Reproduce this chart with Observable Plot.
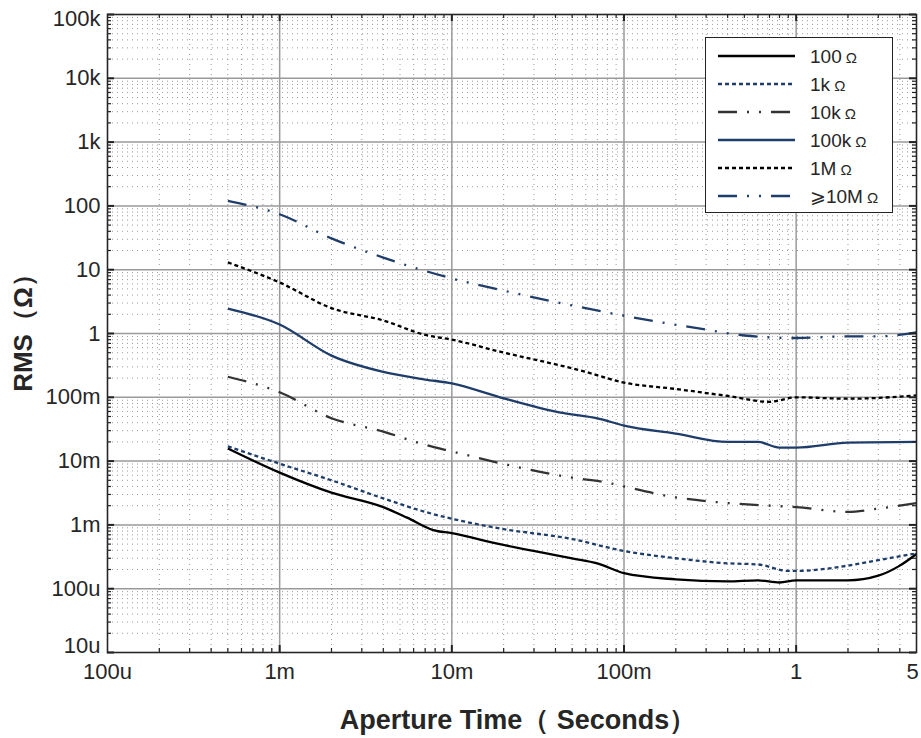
<!DOCTYPE html>
<html>
<head>
<meta charset="utf-8">
<script src="https://cdn.jsdelivr.net/npm/d3@7"></script>
<script src="https://cdn.jsdelivr.net/npm/@observablehq/plot@0.6"></script>
<style>
  body { margin: 0; background: #fff; }
  #wrap { position: relative; width: 921px; height: 738px; font-family: "Liberation Sans", Arial, sans-serif; }
  #wrap svg { font-family: "Liberation Sans", Arial, sans-serif; overflow: visible; }
  #legend { position: absolute; left: 705px; top: 37px; width: 186px; height: 174px; border: 1.5px solid #222; background: #fff; }
  .tick-lbl text { font-size: 22px; fill: #262626; }
  .axis-title text { font-size: 26px; font-weight: bold; fill: #262626; }
  .axis-title-x text { font-size: 27px; font-weight: bold; fill: #262626; }
</style>
</head>
<body>
<div id="wrap"><div id="legend"></div></div>
<script>
// ---- data ----
const seriesNames = ["100 Ω", "1k Ω", "10k Ω", "100k Ω", "1M Ω", "⩾10M Ω"];

const x100 = [0.0005, 0.001, 0.002, 0.004, 0.0055, 0.0078, 0.01, 0.019, 0.05, 0.07, 0.1, 0.2, 0.4, 0.6, 0.8, 1, 2, 3, 4, 5];
const y100 = [0.0158, 0.0066, 0.0032, 0.0019, 0.0013, 0.00083, 0.00074, 0.0005, 0.0003, 0.00025, 0.000175, 0.00014, 0.00013, 0.000135, 0.000125, 0.000135, 0.000135, 0.00016, 0.00023, 0.00035];

const x1k = [0.0005, 0.001, 0.002, 0.004, 0.007, 0.01, 0.019, 0.05, 0.1, 0.2, 0.4, 0.6, 0.9, 1, 2, 3, 5];
const y1k = [0.017, 0.0091, 0.005, 0.0026, 0.0016, 0.00125, 0.00088, 0.0006, 0.00039, 0.0003, 0.00025, 0.00024, 0.00019, 0.00019, 0.00023, 0.00028, 0.00036];

const x10k = [0.0005, 0.001, 0.002, 0.004, 0.007, 0.01, 0.019, 0.05, 0.08, 0.1, 0.2, 0.4, 0.7, 1, 2, 3, 5];
const y10k = [0.21, 0.12, 0.047, 0.029, 0.018, 0.0142, 0.0093, 0.0055, 0.0046, 0.004, 0.0027, 0.0022, 0.002, 0.0019, 0.0016, 0.0018, 0.0022];

const x100k = [0.0005, 0.001, 0.002, 0.004, 0.007, 0.01, 0.019, 0.042, 0.072, 0.1, 0.2, 0.4, 0.6, 0.8, 1, 2, 5];
const y100k = [2.46, 1.38, 0.45, 0.25, 0.19, 0.165, 0.1, 0.058, 0.046, 0.036, 0.027, 0.02, 0.02, 0.0163, 0.0163, 0.0195, 0.02];

const x1M = [0.0005, 0.001, 0.002, 0.004, 0.007, 0.01, 0.019, 0.057, 0.1, 0.2, 0.4, 0.7, 1, 2, 5];
const y1M = [13, 6.3, 2.5, 1.6, 0.95, 0.8, 0.52, 0.26, 0.17, 0.135, 0.105, 0.085, 0.1, 0.095, 0.107];

const x10M = [0.0005, 0.001, 0.002, 0.004, 0.01, 0.02, 0.05, 0.1, 0.3, 0.5, 1, 2, 3, 5];
const y10M = [120, 74, 31, 15.5, 7.3, 4.7, 2.75, 1.9, 1.15, 0.93, 0.85, 0.9, 0.9, 1.04];

const xTickVals = [1e-4, 1e-3, 1e-2, 1e-1, 1, 5];
const xTickLabels = ["100u", "1m", "10m", "100m", "1", "5"];
const yTickVals = [1e-5, 1e-4, 1e-3, 1e-2, 1e-1, 1, 10, 100, 1e3, 1e4, 1e5];
const yTickLabels = ["10u", "100u", "1m", "10m", "100m", "1", "10", "100", "1k", "10k", "100k"];

// ---- layout ----
const W = 921, H = 738, mL = 107, mR = 5, mT = 14, mB = 86;
const plotW = W - mL - mR, plotH = H - mT - mB;
const navy = "#1f3d6b";

// minor grid positions (2..9 of each decade)
const xMinor = [];
for (let e = -4; e <= 0; e++) for (let k = 2; k <= 9; k++) { const v = k * 10 ** e; if (v < 5) xMinor.push(v); }
const yMinor = [];
for (let e = -5; e <= 4; e++) for (let k = 2; k <= 9; k++) yMinor.push(k * 10 ** e);
const xMajorGrid = [1e-3, 1e-2, 1e-1, 1];
const yMajorGrid = yTickVals.slice(1, -1);

const pts = (xs, ys) => xs.map((x, i) => ({x, y: ys[i]}));
const styles = [
  {stroke: "#000", dash: null, w: 2.3},
  {stroke: navy, dash: "4,3", w: 2.3},
  {stroke: "#333", dash: "19,10,2,10,2,10", w: 2.3},
  {stroke: navy, dash: null, w: 2.3},
  {stroke: "#000", dash: "4,3", w: 2.3},
  {stroke: navy, dash: "19,10,2,10,2,10", w: 2.3}
];
const seriesData = [pts(x100, y100), pts(x1k, y1k), pts(x10k, y10k), pts(x100k, y100k), pts(x1M, y1M), pts(x10M, y10M)];

const xLab = new Map(xTickVals.map((v, i) => [v, xTickLabels[i]]));
const yLab = new Map(yTickVals.map((v, i) => [v, yTickLabels[i]]));
const xAxisOpts = {tickSize: 0, tickPadding: 11, tickFormat: d => xLab.get(d), className: "tick-lbl", label: null};
const yAxisOpts = {tickSize: 0, tickPadding: 7, tickFormat: d => yLab.get(d), className: "tick-lbl", label: null};

const chart = Plot.plot({
  width: W, height: H,
  marginLeft: mL, marginRight: mR, marginTop: mT, marginBottom: mB,
  x: {type: "log", domain: [1e-4, 5]},
  y: {type: "log", domain: [1e-5, 1e5]},
  marks: [
    Plot.ruleX(xMinor, {stroke: "#9a9a9a", strokeDasharray: "1,4", strokeWidth: 1}),
    Plot.ruleY(yMinor, {stroke: "#9a9a9a", strokeDasharray: "1,4", strokeWidth: 1}),
    Plot.ruleX(xMajorGrid, {stroke: "#9a9a9a", strokeWidth: 1.5}),
    Plot.ruleY(yMajorGrid, {stroke: "#9a9a9a", strokeWidth: 1.5}),
    ...seriesData.map((d, i) => Plot.line(d, {
      x: "x", y: "y", curve: "monotone-x",
      stroke: styles[i].stroke, strokeWidth: styles[i].w,
      strokeDasharray: styles[i].dash, strokeLinecap: "butt"
    })),
    // inward ticks (left/right/bottom/top)
    Plot.ruleY(yTickVals, {insetRight: plotW - 7, stroke: "#222", strokeWidth: 2}),
    Plot.ruleY(yTickVals, {insetLeft: plotW - 7, stroke: "#222", strokeWidth: 2}),
    Plot.ruleY(yMinor, {insetRight: plotW - 4, stroke: "#222", strokeWidth: 1.2}),
    Plot.ruleY(yMinor, {insetLeft: plotW - 4, stroke: "#222", strokeWidth: 1.2}),
    Plot.ruleX(xMajorGrid, {insetTop: plotH - 7, stroke: "#222", strokeWidth: 2}),
    Plot.ruleX(xMajorGrid, {insetBottom: plotH - 7, stroke: "#222", strokeWidth: 2}),
    Plot.ruleX(xMinor, {insetTop: plotH - 4, stroke: "#222", strokeWidth: 1.2}),
    Plot.ruleX(xMinor, {insetBottom: plotH - 4, stroke: "#222", strokeWidth: 1.2}),
    Plot.frame({stroke: "#262626", strokeWidth: 1.6}),
    Plot.axisX(xTickVals.slice(0, -1), xAxisOpts),
    Plot.text([xTickLabels[xTickLabels.length - 1]], {
      frameAnchor: "bottom-right", textAnchor: "middle", lineAnchor: "top",
      dx: -4, dy: 11, text: d => d, fontSize: 22, fill: "#262626"
    }),
    Plot.axisY(yTickVals.slice(1, -1), yAxisOpts),
    Plot.axisY([yTickVals[0]], {...yAxisOpts, dy: -7}),
    Plot.axisY([yTickVals[yTickVals.length - 1]], {...yAxisOpts, dy: 4}),
    Plot.text(["Aperture Time（ Seconds）"], {frameAnchor: "bottom", dx: 6, dy: 68, text: d => d, className: "axis-title-x", textAnchor: "middle", lineAnchor: "middle"}),
    Plot.text(["RMS（Ω）"], {frameAnchor: "left", rotate: -90, dx: -84, dy: -7, text: d => d, className: "axis-title", textAnchor: "middle", lineAnchor: "middle"})
  ]
});
document.getElementById("wrap").prepend(chart);

// ---- legend ----
const lg = d3.select("#legend").append("svg").attr("width", 186).attr("height", 174)
  .style("font-family", "\"Liberation Sans\", Arial, sans-serif");
seriesNames.forEach((name, i) => {
  const y = 18 + i * 28;
  lg.append("line").attr("x1", 12).attr("x2", 89).attr("y1", y).attr("y2", y)
    .attr("stroke", styles[i].stroke).attr("stroke-width", styles[i].w)
    .attr("stroke-dasharray", styles[i].dash);
  const parts = name.split(" ");
  const t = lg.append("text").attr("x", 104).attr("y", y).attr("dy", "0.35em")
    .attr("fill", "#262626").style("font-size", "19px");
  if (parts[0].startsWith("⩾")) {
    t.append("tspan").text("⩾").style("font-family", "\"DejaVu Sans\"").style("font-size", "19px");
    t.append("tspan").text(parts[0].slice(1));
  } else {
    t.append("tspan").text(parts[0]);
  }
  t.append("tspan").text(" " + parts[1]).style("font-size", "15px");
});
</script>
</body>
</html>
